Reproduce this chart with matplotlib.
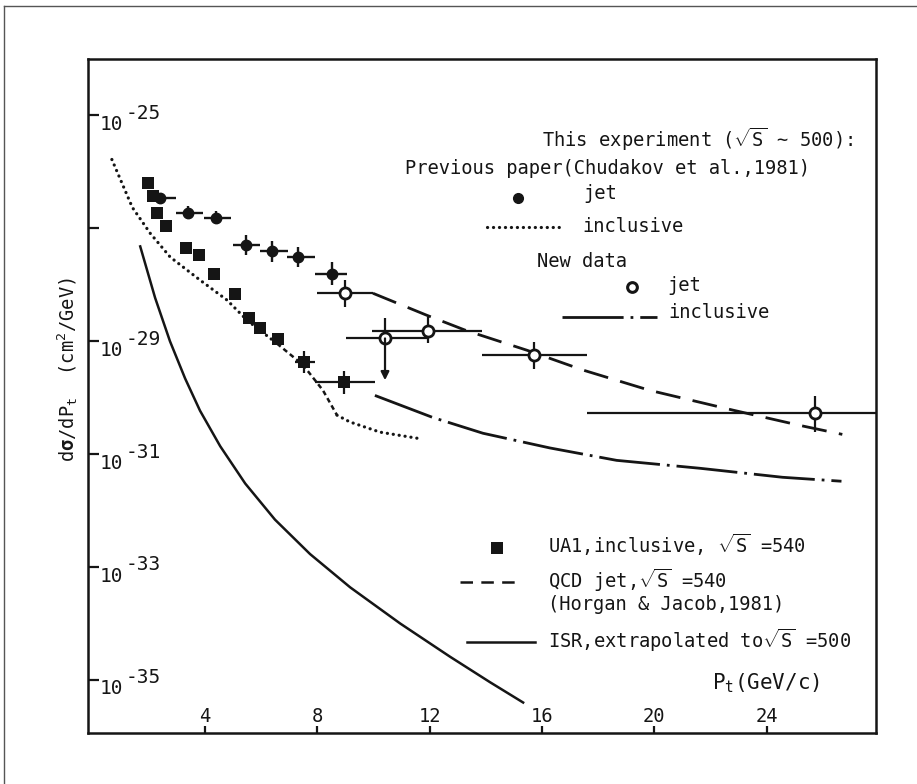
import numpy as np
import matplotlib
matplotlib.use('Agg')
import matplotlib.pyplot as plt
from matplotlib.lines import Line2D
from matplotlib.ticker import NullLocator

plt.rcParams['font.family'] = 'DejaVu Sans Mono'
plt.rcParams['mathtext.fontset'] = 'custom'
plt.rcParams['mathtext.rm'] = 'DejaVu Sans Mono'
plt.rcParams['mathtext.it'] = 'DejaVu Sans Mono'
plt.rcParams['mathtext.sf'] = 'DejaVu Sans Mono'
plt.rcParams['mathtext.bf'] = 'DejaVu Sans Mono:bold'
plt.rcParams['lines.scale_dashes'] = False

ink = '#151515'
fs = 13.5
dots = (0, (0.1, 4.2))
dash_dot = (0, (44, 5, 2, 5))

# ---- data (x in GeV/c, y as log10 of dsigma/dPt) ----
# previous paper, jet (filled circles)
prev_jet_x = np.array([2.40, 3.40, 4.39, 5.46, 6.39, 7.31, 8.52])
prev_jet_logy = np.array([-26.47, -26.72, -26.81, -27.30, -27.41, -27.51, -27.80])
prev_jet_xlo = np.array([2.05, 2.97, 3.97, 5.00, 5.96, 6.92, 7.92])
prev_jet_xhi = np.array([2.95, 3.93, 4.93, 5.96, 6.96, 7.92, 9.06])
prev_jet_dy = np.array([0.10, 0.12, 0.12, 0.18, 0.18, 0.18, 0.20])

# new data, jet (open circles)
new_jet_x = np.array([8.99, 10.41, 11.94, 15.71, 25.71])
new_jet_logy = np.array([-28.15, -28.95, -28.82, -29.25, -30.27])
new_jet_xlo = np.array([7.99, 9.02, 9.95, 13.86, 17.60])
new_jet_xhi = np.array([9.98, 11.90, 13.86, 17.60, 27.90])
new_jet_dy_up = np.array([0.24, 0.36, 0.25, 0.24, 0.30])
new_jet_dy_dn = np.array([0.24, 0.00, 0.21, 0.24, 0.33])
upper_limit_x = 10.41
upper_limit_logy_end = -29.69

# UA1 inclusive (squares)
ua1_x = np.array([1.97, 2.13, 2.30, 2.61, 3.33, 3.79, 4.32, 5.07, 5.57, 5.96, 6.60, 7.54, 8.95])
ua1_logy = np.array([-26.20, -26.42, -26.73, -26.96, -27.34, -27.48, -27.81, -28.17,
                     -28.59, -28.77, -28.96, -29.37, -29.73])
ua1_err_x = np.array([7.54, 8.95])
ua1_err_logy = np.array([-29.37, -29.73])
ua1_err_xlo = np.array([7.20, 7.92])
ua1_err_xhi = np.array([7.90, 10.05])
ua1_err_dy = np.array([0.20, 0.20])

# previous paper, inclusive (dotted, with a short dashed stretch in the middle)
prev_inc_x = [0.68, 1.41, 2.05, 2.76, 3.83, 4.78, 5.50, 6.56, 7.49, 8.20, 8.70, 9.16, 10.23, 11.58]
prev_inc_logy = [-25.78, -26.63, -27.09, -27.51, -27.92, -28.27, -28.63, -29.04, -29.42,
                 -29.87, -30.31, -30.43, -30.61, -30.72]
dashed_part = slice(7, 11)

# QCD jet sqrt(s)=540 (dashed)
qcd_x = [9.98, 11.90, 13.30, 15.47, 17.46, 19.84, 22.80, 25.18, 26.70]
qcd_logy = [-28.15, -28.54, -28.81, -29.16, -29.51, -29.87, -30.22, -30.49, -30.65]

# new data, inclusive (dash-dot)
new_inc_x = [10.05, 12.11, 13.90, 16.28, 18.66, 21.62, 24.57, 26.67]
new_inc_logy = [-29.96, -30.35, -30.63, -30.89, -31.11, -31.25, -31.41, -31.48]

# ISR extrapolated (solid)
isr_x = [1.69, 2.22, 2.75, 3.29, 3.82, 4.54, 5.43, 6.49, 7.74, 9.17, 10.95, 12.73, 14.15, 15.33]
isr_logy = [-27.32, -28.23, -29.00, -29.66, -30.23, -30.86, -31.52, -32.16, -32.77, -33.36,
            -34.00, -34.59, -35.04, -35.40]

xticks = [4, 8, 12, 16, 20, 24]
ytick_exp = [-25, -27, -29, -31, -33, -35]
ylabel_exp = ['-25', '-29', '-31', '-33', '-35']

# ---- figure ----
fig = plt.figure(figsize=(9.17, 7.84), dpi=100)
ax = fig.add_axes([88 / 917, 1 - 733 / 784, (876 - 88) / 917, (733 - 59) / 784])
ax.set_yscale('log')
ax.set_xlim(-0.17, 27.9)
ax.set_ylim(10 ** -35.94, 10 ** -24.0)

for s in ax.spines.values():
    s.set_linewidth(1.8)
    s.set_color(ink)

ax.set_xticks(xticks)
ax.set_yticks([10.0 ** e for e in ytick_exp])
ax.yaxis.set_minor_locator(NullLocator())
ax.xaxis.set_minor_locator(NullLocator())
ax.tick_params(axis='y', direction='in', length=8, width=1.6, color=ink, labelleft=False)
ax.tick_params(axis='x', direction='in', length=5, width=1.6, color=ink, labelbottom=False)

# tick labels drawn inside the frame, as in the original
for e in ylabel_exp:
    ax.annotate('10', xy=(0, 10.0 ** int(e)), xycoords=('axes fraction', 'data'),
                xytext=(8.5, -6.5), textcoords='offset points', ha='left', va='center',
                fontsize=14, color=ink)
    ax.annotate(e, xy=(0, 10.0 ** int(e)), xycoords=('axes fraction', 'data'),
                xytext=(27, 1.5), textcoords='offset points', ha='left', va='center',
                fontsize=14, color=ink)
for t in xticks:
    ax.annotate(str(t), xy=(t, 0), xycoords=('data', 'axes fraction'),
                xytext=(0, 12), textcoords='offset points', ha='center', va='center',
                fontsize=fs, color=ink)

# curves
pix = np.array(prev_inc_x)
piy = 10.0 ** np.array(prev_inc_logy)
ax.plot(pix[:dashed_part.start + 1], piy[:dashed_part.start + 1], color=ink, lw=2.3,
        linestyle=dots, dash_capstyle='round')
ax.plot(pix[dashed_part], piy[dashed_part], color=ink, lw=1.8, linestyle=(0, (3.5, 2.5)))
ax.plot(pix[dashed_part.stop - 1:], piy[dashed_part.stop - 1:], color=ink, lw=2.3,
        linestyle=dots, dash_capstyle='round')
ax.plot(qcd_x, 10.0 ** np.array(qcd_logy), color=ink, lw=2.0, linestyle=(0, (18, 9)))
ax.plot(new_inc_x, 10.0 ** np.array(new_inc_logy), color=ink, lw=2.0, linestyle=dash_dot)
ax.plot(isr_x, 10.0 ** np.array(isr_logy), color=ink, lw=1.8)

# UA1 squares
ua1_y = 10.0 ** ua1_logy
ax.plot(ua1_x, ua1_y, 's', color=ink, ms=8, mew=0)
ey = 10.0 ** ua1_err_logy
ax.errorbar(ua1_err_x, ey,
            xerr=[ua1_err_x - ua1_err_xlo, ua1_err_xhi - ua1_err_x],
            yerr=[ey - ey * 10 ** -ua1_err_dy, ey * 10 ** ua1_err_dy - ey],
            fmt='none', ecolor=ink, elinewidth=1.6, capsize=0)

# previous jet points
py_ = 10.0 ** prev_jet_logy
ax.errorbar(prev_jet_x, py_,
            xerr=[prev_jet_x - prev_jet_xlo, prev_jet_xhi - prev_jet_x],
            yerr=[py_ - py_ * 10 ** -prev_jet_dy, py_ * 10 ** prev_jet_dy - py_],
            fmt='o', ms=7.5, color=ink, mfc=ink, mec=ink, elinewidth=1.7, capsize=0)

# new jet points
ny = 10.0 ** new_jet_logy
ax.errorbar(new_jet_x, ny,
            xerr=[new_jet_x - new_jet_xlo, new_jet_xhi - new_jet_x],
            yerr=[ny - ny * 10 ** -new_jet_dy_dn, ny * 10 ** new_jet_dy_up - ny],
            fmt='o', ms=8, color=ink, mfc='white', mec=ink, mew=2.0,
            elinewidth=1.6, capsize=0)
ul_y = 10.0 ** new_jet_logy[list(new_jet_x).index(upper_limit_x)]
ax.annotate('', xy=(upper_limit_x, 10.0 ** upper_limit_logy_end), xytext=(upper_limit_x, ul_y),
            arrowprops=dict(arrowstyle='-|>', lw=1.6, color=ink, mutation_scale=12,
                            shrinkA=0, shrinkB=0))

# ---- legend (hand-placed, in axes fraction) ----
tr = ax.transAxes
ax.text(0.971, 0.880, r'This experiment ($\sqrt{S}$ ~ 500):', transform=tr,
        ha='right', va='center', fontsize=fs, color=ink)
ax.text(0.402, 0.838, 'Previous paper(Chudakov et al.,1981)', transform=tr,
        ha='left', va='center', fontsize=fs, color=ink)
ax.plot([0.546], [0.794], 'o', ms=7, color=ink, transform=tr)
ax.text(0.628, 0.801, 'jet', transform=tr, ha='left', va='center', fontsize=fs, color=ink)
ax.plot([0.506, 0.602], [0.751, 0.751], color=ink, lw=2.3, linestyle=dots,
        dash_capstyle='round', transform=tr)
ax.text(0.628, 0.752, 'inclusive', transform=tr, ha='left', va='center', fontsize=fs, color=ink)
ax.text(0.570, 0.699, 'New data', transform=tr, ha='left', va='center', fontsize=fs, color=ink)
ax.plot([0.690], [0.662], 'o', ms=7, mfc='white', mec=ink, mew=2.2, transform=tr)
ax.text(0.735, 0.664, 'jet', transform=tr, ha='left', va='center', fontsize=fs, color=ink)
ax.plot([0.602, 0.722], [0.617, 0.617], color=ink, lw=2.0, linestyle=dash_dot, transform=tr)
ax.text(0.737, 0.624, 'inclusive', transform=tr, ha='left', va='center', fontsize=fs, color=ink)

ax.plot([0.519], [0.274], 's', ms=8, mew=0, color=ink, transform=tr)
ax.text(0.584, 0.279, r'UA1,inclusive, $\sqrt{S}$ =540', transform=tr,
        ha='left', va='center', fontsize=fs, color=ink)
ax.plot([0.472, 0.548], [0.224, 0.224], color=ink, lw=1.8, linestyle=(0, (9, 6)), transform=tr)
ax.text(0.584, 0.227, r'QCD jet,$\sqrt{S}$ =540', transform=tr,
        ha='left', va='center', fontsize=fs, color=ink)
ax.text(0.584, 0.190, '(Horgan & Jacob,1981)', transform=tr,
        ha='left', va='center', fontsize=fs, color=ink)
ax.plot([0.481, 0.567], [0.135, 0.135], color=ink, lw=1.8, transform=tr)
ax.text(0.584, 0.138, r'ISR,extrapolated to$\sqrt{S}$ =500', transform=tr,
        ha='left', va='center', fontsize=fs, color=ink)
ax.text(0.792, 0.074, r'P$_t$(GeV/c)', transform=tr, ha='left', va='center',
        fontsize=15, color=ink)

ax.set_ylabel(r'd$\mathbf{\sigma}$/dP$_t$  (cm$^2$/GeV)', fontsize=fs, color=ink)
ax.yaxis.set_label_coords(-0.010, 0.539)

# page frame of the scan
fig.add_artist(Line2D([4 / 917, 1], [1 - 6 / 784, 1 - 6 / 784], transform=fig.transFigure,
                      lw=1.0, color='#555555'))
fig.add_artist(Line2D([4 / 917, 4 / 917], [0, 1 - 6 / 784], transform=fig.transFigure,
                      lw=1.0, color='#555555'))

fig.savefig('out.png', dpi=100)
